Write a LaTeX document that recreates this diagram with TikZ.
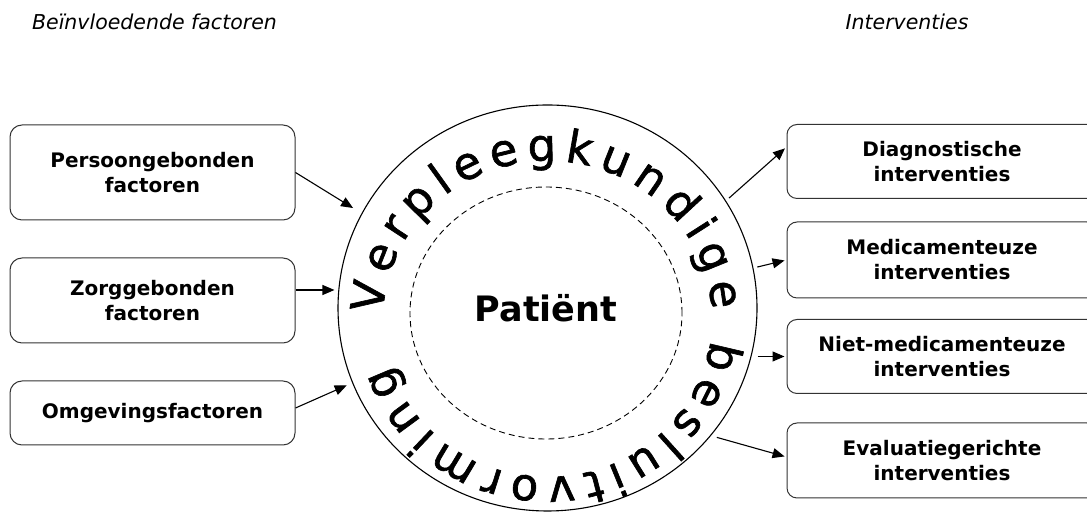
\documentclass[tikz,border=0pt]{standalone}
\usepackage{fontspec}
\setmainfont{DejaVu Sans}
\newfontfamily\cirkelfamilie[FakeBold=1.4]{DejaVu Sans}
\usetikzlibrary{shapes.geometric, arrows.meta, decorations.text}

\newcommand{\cirkelfont}{\cirkelfamilie\fontsize{45}{50}\selectfont}

\begin{document}
\begin{tikzpicture}[x=1pt, y=1pt,
        pijl/.style={-{Triangle[length=12pt, width=10pt]}, line width=1.1pt}
    ]
                \useasboundingbox (0,0) rectangle (1087,513);

                \begin{scope}[
                        every node/.style={align=center, font=\bfseries\fontsize{20}{25}\selectfont},
                        factor/.style={draw=black!80, line width=1pt, rounded corners=12pt, minimum width=285pt},
                        ingreep/.style={draw=black!80, line width=1pt, rounded corners=10pt, minimum width=310pt, minimum height=74pt}
                    ]

                    \node[factor, minimum height=95pt] (pers) at (152.5,340.5) {Persoongebonden\\factoren};
                    \node[factor, minimum height=85pt] (zorg) at (152.5,212.5) {Zorggebonden\\factoren};
                    \node[factor, minimum height=64pt] (omg) at (152.5,100) {Omgevingsfactoren};

                    \node[ingreep] (diag) at (942,351.5) {Diagnostische\\interventies};
                    \node[ingreep, minimum height=76pt] (medi) at (942,253) {Medicamenteuze\\interventies};
                    \node[ingreep] (niet) at (942,156.5) {Niet-medicamenteuze\\interventies};
                    \node[ingreep, minimum height=75pt] (eval) at (942,52.5) {Evaluatiegerichte\\interventies};
                \end{scope}

                \node[font=\itshape\fontsize{20.5}{24}\selectfont] (kopl) at (154.5,491) {Beïnvloedende factoren};
                \node[font=\itshape\fontsize{20.5}{24}\selectfont] (kopr) at (907,491) {Interventies};

                \node[draw, ellipse, line width=1.1pt, inner sep=0pt, minimum width=419pt, minimum height=406pt] (beslis) at (547.5,205) {};
                \node[draw, ellipse, line width=0.9pt, dash pattern=on 6pt off 4pt, inner sep=0pt, minimum width=272pt, minimum height=252pt] (kern) at (546,200) {};
                \node[font=\bfseries\fontsize{35}{40}\selectfont] (patient) at (546,205) {Patiënt};

                \coordinate (tekstmidden) at (547.5,194);
                \path[decorate, decoration={text along path, text={|\cirkelfont|Verpleegkundige besluitvorming}, text align=fit to path}]
                    ([shift={(178:164.5 and 158)}]tekstmidden) arc[start angle=178, end angle=-163, x radius=164.5, y radius=158];

                \coordinate (z1) at ([yshift=10.5pt]zorg.east);

                \draw[pijl, shorten >=10pt] (pers.east) -- (beslis.153);
                \draw[pijl, shorten >=3pt] (z1) -- (z1 -| beslis.west);
                \draw[pijl, shorten >=6pt] ([yshift=5pt]omg.east) -- (beslis.201);

                \draw[pijl, shorten <=4pt, shorten >=2pt] (beslis.31.6) -- ([yshift=14.5pt]diag.west);
                \draw[pijl, shorten <=4pt, shorten >=2pt] (beslis.11) -- (medi.west);
                \draw[pijl, shorten >=2pt] (niet.west -| beslis.east) -- (niet.west);
                \draw[pijl, shorten <=6pt, shorten >=2pt] (beslis.-38.2) -- ([yshift=3.5pt]eval.west);
                % \draw[help lines] (0,0) grid[step=50] (1087,513);
\end{tikzpicture}
\end{document}
